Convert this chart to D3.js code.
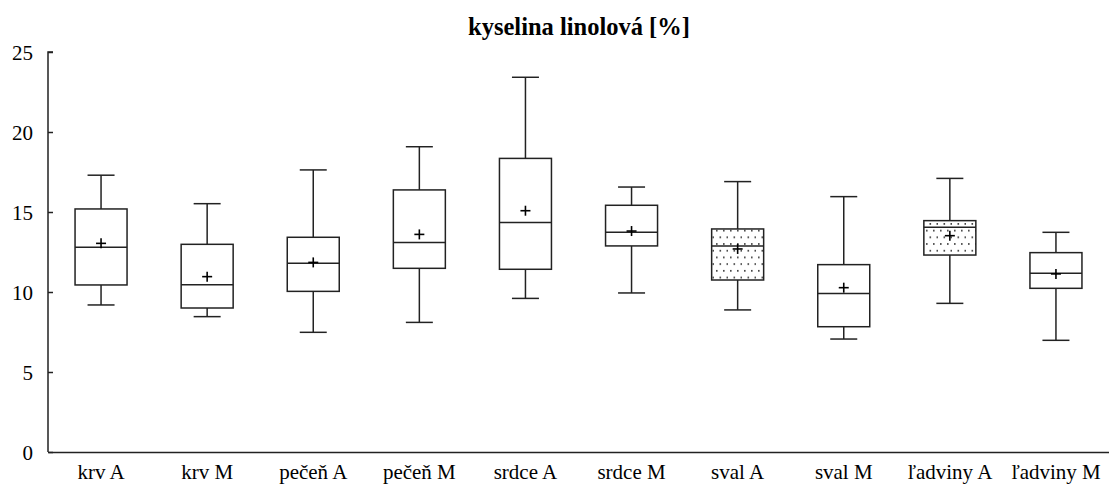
<!DOCTYPE html>
<html><head><meta charset="utf-8">
<script src="https://cdn.jsdelivr.net/npm/d3@7/dist/d3.min.js"></script>
<style>body{margin:0;background:#fff}svg{display:block}</style>
</head><body>
<script>
const categories = ["krv A","krv M","pečeň A","pečeň M","srdce A","srdce M","sval A","sval M","ľadviny A","ľadviny M"];
const whiskerLow  = [9.19, 8.46, 7.48, 8.10, 9.60, 9.94, 8.88, 7.06, 9.29, 6.98];
const q1          = [10.44, 9.00, 10.04, 11.48, 11.42, 12.88, 10.75, 7.83, 12.31, 10.23];
const median      = [12.80, 10.46, 11.79, 13.10, 14.35, 13.73, 12.88, 9.90, 14.04, 11.17];
const q3          = [15.19, 12.98, 13.42, 16.38, 18.35, 15.42, 13.94, 11.71, 14.46, 12.46];
const whiskerHigh = [17.30, 15.52, 17.63, 19.08, 23.42, 16.56, 16.90, 15.96, 17.10, 13.73];
const means       = [13.04, 10.96, 11.85, 13.60, 15.08, 13.81, 12.69, 10.27, 13.52, 11.13];
const dotted      = [false,false,false,false,false,false,true,false,true,false];
const yTicks = [0,5,10,15,20,25];
const title = "kyselina linolová [%]";

const W = 1109, H = 486;
const svg = d3.select("body").append("svg").attr("width", W).attr("height", H);
const defs = svg.append("defs");
const pat = defs.append("pattern").attr("id","dots").attr("patternUnits","userSpaceOnUse")
  .attr("width",14).attr("height",13.4);
pat.append("rect").attr("width",14).attr("height",13.4).attr("fill","#fff");
[[2,2],[9,2],[5.5,8.7],[12.5,8.7]].forEach(([px,py]) =>
  pat.append("rect").attr("x",px).attr("y",py).attr("width",1.6).attr("height",1.6).attr("fill","#333"));

const mLeft = 48, mRight = 1109, mTop = 52, mBottom = 452;
const x = d3.scaleBand().domain(categories).range([mLeft, mRight]).padding(0);
const y = d3.scaleLinear().domain([0,25]).range([mBottom, mTop]);
const font = "'Liberation Serif','Times New Roman',serif";
const col = "#222";

svg.append("text").attr("x", 579).attr("y", 35).attr("text-anchor","middle")
  .attr("font-family", font).attr("font-weight","bold").attr("font-size", 24.5).attr("fill","#000").text(title);

// y axis
const yAxis = svg.append("g").attr("transform", `translate(${mLeft},0)`)
  .call(d3.axisRight(y).tickValues(yTicks).tickSize(5).tickFormat(d3.format("d")));
yAxis.select(".domain").attr("d", `M5,${mTop}H0V${mBottom}`).attr("stroke", col).attr("stroke-width",1.5);
yAxis.selectAll(".tick line").attr("stroke", col).attr("stroke-width",1.5);
yAxis.selectAll(".tick text").attr("x", -15).attr("text-anchor","end").attr("dy","0.35em")
  .attr("font-family", font).attr("font-size", 21).attr("fill","#000");

// x axis
const xAxis = svg.append("g").attr("transform", `translate(0,${mBottom})`)
  .call(d3.axisBottom(x).tickSize(0).tickSizeOuter(0));
xAxis.select(".domain").attr("stroke", col).attr("stroke-width",1.5);
xAxis.selectAll(".tick text").attr("y", 27).attr("dy","0").attr("font-family", font).attr("font-size", 21).attr("fill","#000");

const bw = 52, cw = 27;
const g = svg.append("g");
categories.forEach((c,i) => {
  const cx = x(c) + x.bandwidth()/2;
  const gg = g.append("g").attr("stroke", col).attr("stroke-width",1.5).attr("fill","none");
  gg.append("line").attr("x1",cx).attr("x2",cx).attr("y1",y(whiskerHigh[i])).attr("y2",y(q3[i]));
  gg.append("line").attr("x1",cx).attr("x2",cx).attr("y1",y(q1[i])).attr("y2",y(whiskerLow[i]));
  gg.append("line").attr("x1",cx-cw/2).attr("x2",cx+cw/2).attr("y1",y(whiskerHigh[i])).attr("y2",y(whiskerHigh[i]));
  gg.append("line").attr("x1",cx-cw/2).attr("x2",cx+cw/2).attr("y1",y(whiskerLow[i])).attr("y2",y(whiskerLow[i]));
  gg.append("rect").attr("x",cx-bw/2).attr("width",bw).attr("y",y(q3[i])).attr("height",y(q1[i])-y(q3[i]))
    .attr("fill", dotted[i] ? "url(#dots)" : "#fff");
  gg.append("line").attr("x1",cx-bw/2).attr("x2",cx+bw/2).attr("y1",y(median[i])).attr("y2",y(median[i]));
  const my = y(means[i]);
  gg.append("line").attr("x1",cx-5).attr("x2",cx+5).attr("y1",my).attr("y2",my).attr("stroke","#000").attr("stroke-width",1.6);
  gg.append("line").attr("x1",cx).attr("x2",cx).attr("y1",my-5).attr("y2",my+5).attr("stroke","#000").attr("stroke-width",1.6);
});
</script>
</body></html>
